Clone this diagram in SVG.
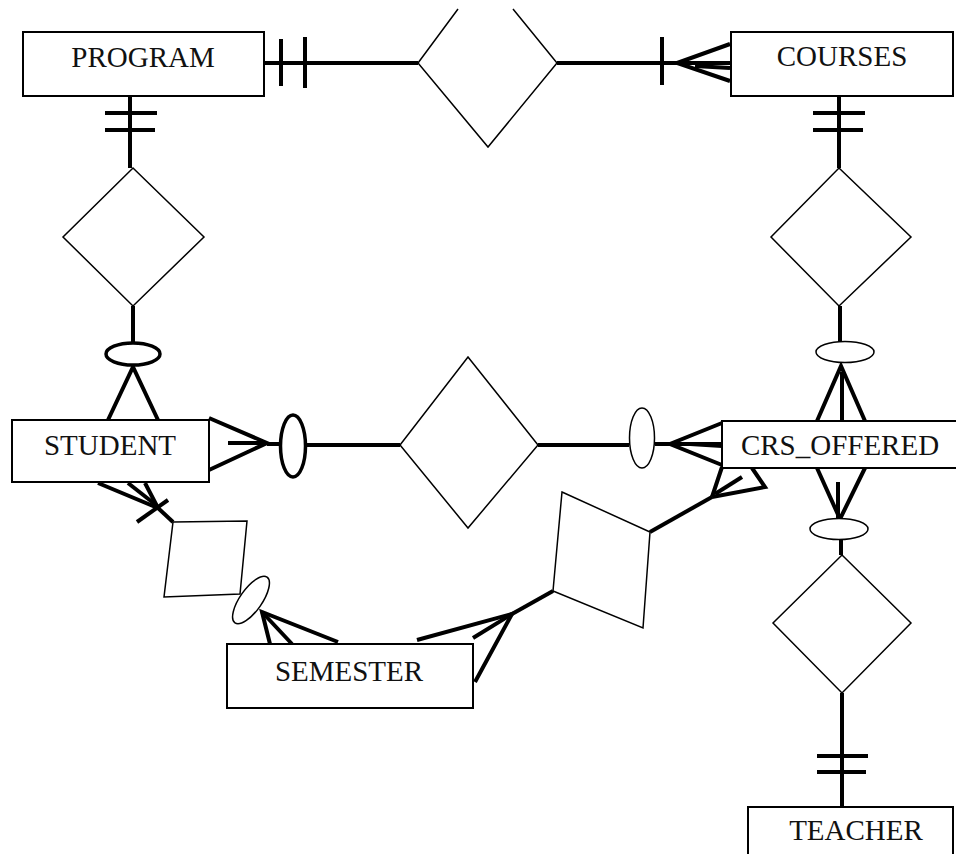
<svg xmlns="http://www.w3.org/2000/svg" width="956" height="854" viewBox="0 0 956 854">
<style>
.box{fill:#fff;stroke:#000;stroke-width:2}
.lbl{font-family:"Liberation Serif","Times New Roman",serif;font-size:29px;fill:#111;text-anchor:middle}
.rel{fill:#fff;stroke:#000;stroke-width:1.5;stroke-linejoin:miter}
.c{fill:none;stroke:#000;stroke-width:4;stroke-linecap:butt;stroke-linejoin:miter}
.thinO{fill:#fff;stroke:#000;stroke-width:1.5}
.thickO{fill:#fff;stroke:#000;stroke-width:3.5}
</style>
<rect width="956" height="854" fill="#fff"/>

<g id="connectors">
  <!-- PROGRAM - top diamond - COURSES -->
  <line class="c" x1="264" y1="63" x2="418" y2="63"/>
  <line class="c" x1="281" y1="39" x2="281" y2="86"/>
  <line class="c" x1="305" y1="37" x2="305" y2="88"/>
  <line class="c" x1="557" y1="63" x2="730" y2="63"/>
  <line class="c" x1="662" y1="37" x2="662" y2="85"/>
  <polyline class="c" points="730,44 677,63 730,81"/>
  <line class="c" x1="695" y1="66" x2="730" y2="68"/>

  <!-- PROGRAM - left diamond - STUDENT -->
  <line class="c" x1="130" y1="96" x2="130" y2="168"/>
  <line class="c" x1="105" y1="113" x2="157" y2="113"/>
  <line class="c" x1="105" y1="130" x2="155" y2="130"/>
  <line class="c" x1="133" y1="306" x2="133" y2="342"/>
  <polyline class="c" points="108,420 133,367 158,420"/>

  <!-- COURSES - right diamond - CRS_OFFERED -->
  <line class="c" x1="839" y1="96" x2="839" y2="168"/>
  <line class="c" x1="813" y1="113" x2="865" y2="113"/>
  <line class="c" x1="813" y1="130" x2="863" y2="130"/>
  <line class="c" x1="840" y1="306" x2="840" y2="342"/>
  <polyline class="c" points="817,421 841,366 865,421"/>
  <line class="c" x1="842" y1="372" x2="842" y2="421"/>

  <!-- STUDENT - center diamond - CRS_OFFERED -->
  <polyline class="c" points="209,418 267,443 209,470"/>
  <line class="c" x1="228" y1="443" x2="267" y2="443"/>
  <line class="c" x1="267" y1="444" x2="280" y2="444"/>
  <line class="c" x1="306" y1="445" x2="400" y2="445"/>
  <line class="c" x1="538" y1="445" x2="629" y2="445"/>
  <line class="c" x1="655" y1="444" x2="722" y2="444"/>
  <polyline class="c" points="722,423 670,444 722,465"/>
  <line class="c" x1="690" y1="444" x2="722" y2="446"/>

  <!-- CRS_OFFERED - bottom-right diamond - TEACHER -->
  <polyline class="c" points="817,468 840,519 865,468"/>
  <line class="c" x1="838" y1="482" x2="838" y2="518"/>
  <line class="c" x1="841" y1="539" x2="841" y2="555"/>
  <line class="c" x1="842" y1="693" x2="842" y2="807"/>
  <line class="c" x1="817" y1="756" x2="868" y2="756"/>
  <line class="c" x1="817" y1="772" x2="866" y2="772"/>

  <!-- STUDENT - square - SEMESTER -->
  <polyline class="c" points="98,483 158,508 145,483"/>
  <line class="c" x1="128" y1="483" x2="156" y2="505"/>
  <line class="c" x1="158" y1="508" x2="173" y2="522"/>
  <line class="c" x1="137" y1="522" x2="168" y2="500"/>
  <polyline class="c" points="270,644 262,612 338,642"/>
  <line class="c" x1="262" y1="612" x2="292" y2="644"/>

  <!-- SEMESTER - rotated square - CRS_OFFERED -->
  <polyline class="c" points="417,640 512,614 475,682"/>
  <line class="c" x1="473" y1="638" x2="512" y2="614"/>
  <line class="c" x1="512" y1="614" x2="553" y2="591"/>
  <line class="c" x1="650" y1="532" x2="712" y2="497"/>
  <polyline class="c" points="712,497 722,467"/>
  <polyline class="c" points="712,497 765,487 752,468"/>
  <line class="c" x1="715" y1="494" x2="742" y2="477"/>
</g>

<g id="ellipses">
  <ellipse class="thickO" cx="133" cy="354" rx="27" ry="11"/>
  <ellipse class="thickO" cx="293" cy="446" rx="12.5" ry="31"/>
  <ellipse class="thinO" cx="642" cy="438" rx="12.5" ry="30"/>
  <ellipse class="thinO" cx="845" cy="352" rx="29" ry="10.5"/>
  <ellipse class="thinO" cx="839" cy="529" rx="29" ry="10.5"/>
  <ellipse class="thinO" cx="251" cy="600" rx="28" ry="11" transform="rotate(-55 251 600)"/>
</g>

<g id="rel-top">
  <polyline class="rel" points="458,9 418,63 488,147 557,63 513,9"/>
</g>
<g id="rel-left">
  <polygon class="rel" points="133,168 204,237 133,306 63,237"/>
</g>
<g id="rel-right">
  <polygon class="rel" points="839,168 911,237 839,306 771,237"/>
</g>
<g id="rel-center">
  <polygon class="rel" points="468,357 538,445 468,528 400,445"/>
</g>
<g id="rel-bottom-right">
  <polygon class="rel" points="842,555 911,623 842,693 773,623"/>
</g>
<g id="rel-square-left">
  <polygon class="rel" points="173,522 247,521 240,594 164,597"/>
</g>
<g id="rel-square-mid">
  <polygon class="rel" points="562,492 650,532 643,628 553,591"/>
</g>

<g id="PROGRAM">
  <rect class="box" x="23" y="32" width="241" height="64"/>
  <text class="lbl" x="143" y="67">PROGRAM</text>
</g>
<g id="COURSES">
  <rect class="box" x="731" y="32" width="222" height="64"/>
  <text class="lbl" x="842" y="66">COURSES</text>
</g>
<g id="STUDENT">
  <rect class="box" x="12" y="420" width="197" height="62"/>
  <text class="lbl" x="110" y="455">STUDENT</text>
</g>
<g id="CRS_OFFERED">
  <rect class="box" x="722" y="421" width="250" height="47"/>
  <text class="lbl" x="840" y="455">CRS_OFFERED</text>
</g>
<g id="SEMESTER">
  <rect class="box" x="227" y="644" width="246" height="64"/>
  <text class="lbl" x="349" y="681">SEMESTER</text>
</g>
<g id="TEACHER">
  <rect class="box" x="748" y="807" width="205" height="60"/>
  <text class="lbl" x="856" y="840">TEACHER</text>
</g>
</svg>
